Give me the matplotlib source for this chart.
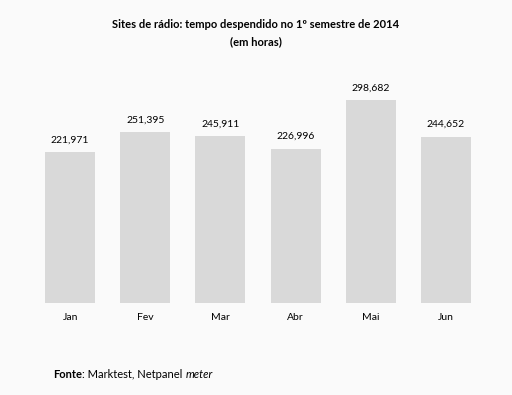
import matplotlib.pyplot as plt
import matplotlib as mpl

months = ["Jan", "Fev", "Mar", "Abr", "Mai", "Jun"]
hours = [221971, 251395, 245911, 226996, 298682, 244652]
value_labels = ["221,971", "251,395", "245,911", "226,996", "298,682", "244,652"]

mpl.rcParams["font.family"] = ["Lato", "DejaVu Sans"]

W, H = 512, 395
fig = plt.figure(figsize=(W / 100, H / 100), dpi=100)
fig.patch.set_facecolor("#fafafa")

# axes placed in pixel coords: bars baseline at y=303 from top
left, right = 32.5, 483.5
bottom = H - 303
top = H - 60
ax = fig.add_axes([left / W, bottom / H, (right - left) / W, (top - bottom) / H])
ax.set_facecolor("#fafafa")

x = range(len(months))
ax.bar(x, hours, width=0.667, color="#d9d9d9")
ax.set_xlim(-0.5, 5.5)
ax.set_ylim(0, 298682 * (top - bottom) / 203)

for xi, v, lab in zip(x, hours, value_labels):
    ax.annotate(lab, (xi, v), xytext=(0, 5.5), textcoords="offset points",
                ha="center", va="bottom", fontsize=7.5, color="#000000")

ax.set_xticks(list(x))
ax.set_xticklabels(months, fontsize=7.5)
ax.tick_params(axis="x", length=0, pad=7)
ax.set_yticks([])
for s in ax.spines.values():
    s.set_visible(False)

fig.text(0.5, 1 - 25 / H, "Sites de rádio: tempo despendido no 1º semestre de 2014",
         ha="center", va="center", fontsize=8, fontweight="bold")
fig.text(0.5, 1 - 42 / H, "(em horas)", ha="center", va="center",
         fontsize=8, fontweight="bold")

# source line: bold + regular + italic pieces placed one after another
y_src = 1 - 374 / H
t1 = fig.text(53 / W, y_src, "Fonte", ha="left", va="center",
              fontsize=8, fontweight="bold")
fig.canvas.draw()
bb = t1.get_window_extent()
t2 = fig.text(bb.x1 / W, y_src, ": Marktest, Netpanel ", ha="left", va="center",
              fontsize=8)
fig.canvas.draw()
bb2 = t2.get_window_extent()
fig.text(bb2.x1 / W, y_src, "meter", ha="left", va="center",
         fontsize=8, style="italic")

fig.savefig("out.png", dpi=100, facecolor=fig.get_facecolor())
